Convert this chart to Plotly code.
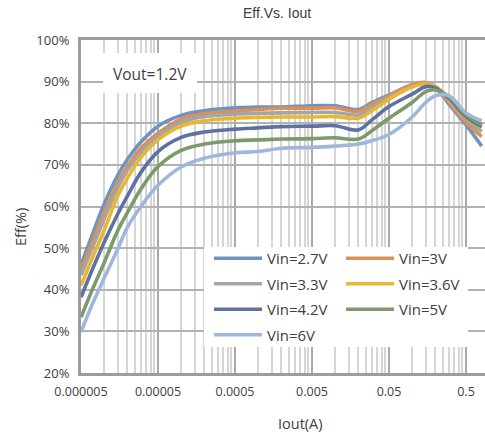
import math
import plotly.graph_objects as go

# ---------------- data ----------------
iout = [5e-6, 7e-6, 1e-5, 1.5e-5, 2e-5, 3e-5, 5e-5, 1e-4, 2e-4, 5e-4, 1e-3, 2e-3,
        5e-3, 1e-2, 2e-2, 3e-2, 5e-2, 0.1, 0.15, 0.2, 0.3, 0.5, 0.8]

eff_2v7 = [46.0, 53.2, 60.6, 67.5, 71.3, 75.5, 79.3, 81.9, 83.0, 83.7, 83.9, 83.9,
           84.2, 84.2, 83.3, 85.0, 86.8, 89.2, 89.6, 88.6, 84.6, 79.6, 74.5]
eff_3v = [44.7, 51.5, 58.4, 65.6, 69.6, 74.0, 77.6, 81.0, 82.3, 82.9, 83.3, 83.6,
          83.6, 83.7, 82.9, 84.6, 86.6, 89.3, 89.8, 88.8, 85.0, 80.2, 76.8]
eff_3v3 = [43.5, 50.0, 57.0, 64.5, 68.7, 73.0, 76.9, 80.2, 81.6, 82.2, 82.4, 82.5,
           82.6, 82.6, 82.0, 83.8, 86.2, 88.9, 89.6, 88.8, 85.4, 81.0, 78.0]
eff_3v6 = [41.0, 47.6, 54.3, 62.5, 66.8, 71.8, 76.0, 79.3, 80.6, 81.2, 81.4, 81.5,
           81.5, 81.6, 81.2, 83.0, 85.8, 88.7, 89.5, 88.9, 85.8, 81.4, 79.0]
eff_4v2 = [38.2, 44.8, 51.4, 58.2, 62.5, 68.2, 73.2, 76.6, 77.9, 78.6, 78.9, 79.2,
           79.3, 79.4, 78.4, 80.8, 84.0, 87.0, 88.8, 88.5, 86.0, 81.6, 79.2]
eff_5v = [33.4, 40.0, 46.5, 54.2, 58.5, 64.2, 69.6, 73.5, 75.0, 75.8, 76.0, 76.2,
          76.3, 76.5, 76.2, 78.2, 81.2, 85.0, 87.6, 88.0, 86.4, 82.0, 79.6]
eff_6v = [29.8, 36.5, 42.8, 49.8, 55.0, 60.0, 65.1, 69.5, 71.6, 72.9, 73.2, 74.0,
          74.2, 74.5, 75.0, 75.8, 77.3, 81.5, 85.0, 86.6, 86.6, 82.5, 80.6]

series_names = ["Vin=2.7V", "Vin=3V", "Vin=3.3V", "Vin=3.6V", "Vin=4.2V", "Vin=5V", "Vin=6V"]
series_values = [eff_2v7, eff_3v, eff_3v3, eff_3v6, eff_4v2, eff_5v, eff_6v]
series_colors = ["#7094c2", "#dc8f56", "#a5a5a5", "#e9b632", "#5d72a0", "#7c9a6c", "#9fb7db"]
series_legend = ["legend", "legend2", "legend", "legend2", "legend", "legend2", "legend"]

x_tickvals = [5e-6, 5e-5, 5e-4, 5e-3, 5e-2, 0.5]
x_ticktext = ["0.000005", "0.00005", "0.0005", "0.005", "0.05", "0.5"]
y_tickvals = [20, 30, 40, 50, 60, 70, 80, 90, 100]
y_ticktext = ["20%", "30%", "40%", "50%", "60%", "70%", "80%", "90%", "100%"]

# minor gridlines at k * decade-start
minor_vals = [k * d for d in x_tickvals for k in range(2, 10)]

# ---------------- layout helpers ----------------
W, H = 485, 436
L, T, R = 81, 40, 0
B = H - 373
PW, PH = W - L - R, H - T - B


def px(x):
    return (x - L) / PW


def py(y):
    return (H - B - y) / PH


TXT = "#404040"
FONT = "Open Sans"

fig = go.Figure()
for name, vals, col, lg in zip(series_names, series_values, series_colors, series_legend):
    fig.add_trace(go.Scatter(
        x=iout, y=vals, name=name, mode="lines",
        line=dict(color=col, width=3.6, shape="spline", smoothing=1.0),
        legend=lg, legendgroup=name,
    ))

x0 = math.log10(5e-6)
decade_px = 77.0
x1 = x0 + PW / decade_px

fig.update_layout(
    width=W, height=H,
    margin=dict(l=L, r=R, t=T, b=B, pad=0),
    paper_bgcolor="white", plot_bgcolor="white",
    showlegend=True,
    font=dict(family=FONT, color=TXT),
    xaxis=dict(
        type="log", range=[x0, x1],
        tickmode="array", tickvals=x_tickvals, ticktext=x_ticktext,
        tickfont=dict(family=FONT, size=12.5, color=TXT),
        ticks="", ticklabelstandoff=5,
        showgrid=True, gridcolor="#a9a9a9", gridwidth=1.5,
        minor=dict(tickmode="array", tickvals=minor_vals, showgrid=True,
                   gridcolor="#d6d6d6", gridwidth=1.5, ticks=""),
        showline=True, linecolor="#9c9c9c", linewidth=3, mirror=True,
        zeroline=False, automargin=False,
    ),
    yaxis=dict(
        range=[20, 100], tickmode="array", tickvals=y_tickvals, ticktext=y_ticktext,
        tickfont=dict(family=FONT, size=13, color=TXT),
        ticks="", ticklabelstandoff=6,
        showgrid=True, gridcolor="#b2b2b2", gridwidth=1.5,
        showline=True, linecolor="#9c9c9c", linewidth=3,
        zeroline=False, automargin=False,
    ),
    legend=dict(
        x=px(209), y=py(242), xanchor="left", yanchor="top",
        bgcolor="rgba(255,255,255,0)", borderwidth=0,
        font=dict(family=FONT, size=15, color=TXT),
        tracegroupgap=3, itemwidth=48, traceorder="grouped",
    ),
    legend2=dict(
        x=px(341), y=py(242), xanchor="left", yanchor="top",
        bgcolor="rgba(255,255,255,0)", borderwidth=0,
        font=dict(family=FONT, size=15, color=TXT),
        tracegroupgap=3, itemwidth=48, traceorder="grouped",
    ),
    shapes=[
        dict(type="rect", xref="paper", yref="paper", x0=px(204), x1=px(468),
             y0=py(347), y1=py(247), fillcolor="white", line=dict(width=0), layer="above"),
        dict(type="rect", xref="paper", yref="paper", x0=px(103), x1=px(197),
             y0=py(93), y1=py(53), fillcolor="white", line=dict(width=0), layer="above"),
    ],
    annotations=[
        dict(text="Vout=1.2V", xref="paper", yref="paper", x=px(150), y=py(74),
             xanchor="center", yanchor="middle",
             showarrow=False, font=dict(family=FONT, size=15.5, color=TXT)),
        dict(text="Eff.Vs. Iout", xref="paper", yref="paper", x=px(277), y=py(13),
             xanchor="center", yanchor="middle",
             showarrow=False, font=dict(family="Liberation Sans", size=14, color=TXT)),
        dict(text="Iout(A)", xref="paper", yref="paper", x=px(300), y=py(423),
             xanchor="center", yanchor="middle",
             showarrow=False, font=dict(family=FONT, size=14.5, color=TXT)),
        dict(text="Eff(%)", xref="paper", yref="paper", x=px(20), y=py(227),
             xanchor="center", yanchor="middle",
             showarrow=False, textangle=-90, font=dict(family=FONT, size=14.5, color=TXT)),
    ],
)

fig.write_html(
    "out.html",
    config={"displayModeBar": False},
    post_script="document.body.style.margin='0px';document.body.style.overflow='hidden';",
)
